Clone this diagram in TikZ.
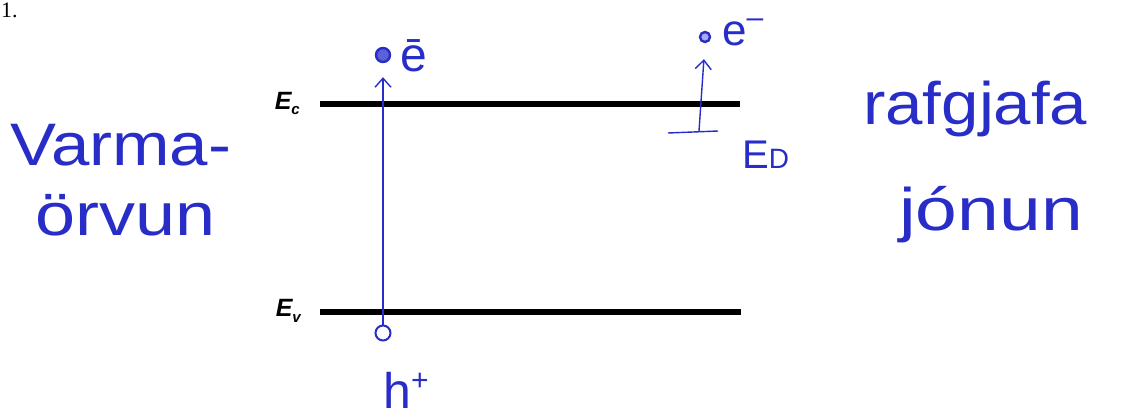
\documentclass[tikz,border=0pt]{standalone}
\usepackage{fontspec}
\setmainfont{Liberation Sans}
\newfontfamily\serifnum{Liberation Serif}
\usetikzlibrary{arrows.meta}
\definecolor{pen}{RGB}{40,45,200}
\tikzset{
  level/.style={line width=6pt, black},
  hand/.style={text=pen, font=\fontsize{60}{60}\selectfont, inner sep=0pt},
  bandlabel/.style={font=\fontsize{25}{25}\selectfont\bfseries\itshape, inner sep=0pt},
  pencil/.style={draw=pen, line width=1.4pt},
  jump/.style={pencil, -{Straight Barb[length=9pt,width=16pt,line width=1.4pt]}},
}
\begin{document}
\begin{tikzpicture}[x=1pt,y=-1pt]
\useasboundingbox (0,0) rectangle (1135,417);
\fill[white] (0,0) rectangle (1135,417);
% page number
\node[anchor=base west, inner sep=0pt, font=\serifnum\fontsize{22}{22}\selectfont] (num) at (1,18) {1.};
% band edges
\coordinate (ecL) at (320,104); \coordinate (ecR) at (740,104);
\coordinate (evL) at (320,312); \coordinate (evR) at (741,312);
\draw[level] (ecL) -- (ecR);
\draw[level] (evL) -- (evR);
\node[bandlabel, anchor=base east] (ec) at (300,110) {E\raisebox{-5pt}{\fontsize{15}{15}\selectfont c}};
\node[bandlabel, anchor=base east] (ev) at (301,316) {E\raisebox{-6pt}{\fontsize{15}{15}\selectfont v}};
% thermal excitation
\node[circle, pencil, line width=2.4pt, fill=pen!75, minimum size=14pt, inner sep=0pt] (e1) at (383,55) {};
\node[circle, pencil, line width=2pt, minimum size=15pt, inner sep=0pt] (h1) at (383,333) {};
\draw[jump, shorten >=14pt] (h1.north) -- (e1.south);
\node[hand, anchor=base west, font=\fontsize{48}{48}\selectfont] (e1t) at (400,72) {ē};
\node[hand, anchor=base west, font=\fontsize{50}{50}\selectfont] (ht) at (383,408) {h\raisebox{18pt}{\fontsize{30}{30}\selectfont +}};
% donor ionisation
\node[circle, pencil, line width=2.4pt, fill=pen!40, minimum size=10pt, inner sep=0pt] (e2) at (705,37) {};
\coordinate (edL) at (668,133); \coordinate (edR) at (718,131);
\draw[pencil] (edL) -- (edR);
\coordinate (edM) at (699,131);
\draw[jump, shorten >=16pt] (edM) -- (e2.south);
\node[hand, anchor=base west, font=\fontsize{44}{44}\selectfont] (e2t) at (722,46) {e\raisebox{18pt}{\fontsize{30}{30}\selectfont –}};
\node[hand, anchor=base west, font=\fontsize{40}{40}\selectfont] (edt) at (742,168) {E\fontsize{28}{28}\selectfont D};
% handwritten words
\node[hand, anchor=base west, xscale=1.15] (w1) at (10,165) {Varma-};
\node[hand, anchor=base west, xscale=1.2] (w2) at (35,235) {örvun};
\node[hand, anchor=base west, xscale=1.12] (w3) at (863,125) {rafgjafa};
\node[hand, anchor=base west, xscale=1.25] (w4) at (899,230) {jónun};
\end{tikzpicture}
\end{document}
